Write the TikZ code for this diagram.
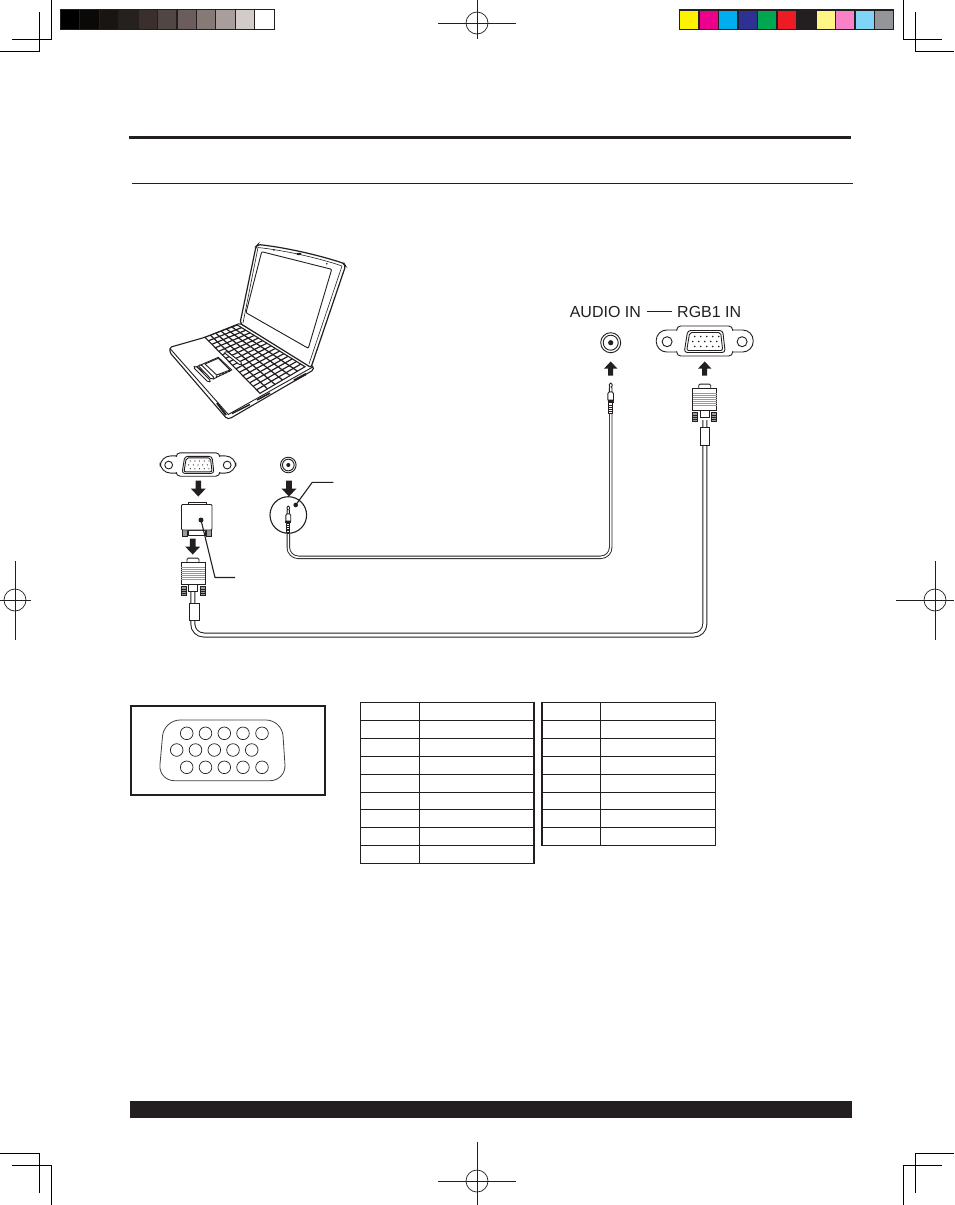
\documentclass[tikz,border=0pt]{standalone}
\usepackage{fontspec}
\setmainfont{Liberation Sans}
\usetikzlibrary{calc}
\definecolor{ink}{HTML}{231F20}
\tikzset{
  ln/.style={draw=ink,line width=0.9pt},
  crop/.style={draw=black,line width=1pt},
  tbl/.style={draw=ink,line width=1pt},
  lbl/.style={font=\fontsize{16}{16}\selectfont,text=ink,inner sep=0pt},
  fatarrow/.pic={\fill[ink] (-2.8,-8)--(2.8,-8)--(2.8,0)--(7.5,0)--(0,8)--(-7.5,0)--(-2.8,0)--cycle;},
  vgaport/.pic={
    \draw[ln,fill=white,rounded corners=10.5pt] (-48.5,-11) rectangle (48.5,11);
    \draw[ln,fill=white,rounded corners=4pt] (-28,-15) rectangle (28,15);
    \fill[white] (-29,-10) rectangle (29,10);
    \draw[ln] (-37.6,0.7) circle[radius=5];
    \draw[ln] (37.4,0.7) circle[radius=5];
    \draw[ln,rounded corners=3pt] (-17,-10.5)--(18,-10.5)--(20.5,11.5)--(-20.5,11.5)--cycle;
    \draw[ln,rounded corners=2pt] (-15,-8.5)--(16,-8.5)--(18,9.5)--(-18,9.5)--cycle;
    \foreach \px in {-10,-4,2,8,14} \fill[ink] (\px,-4.5) circle[radius=.8];
    \foreach \px in {-12,-6,0,6,12} \fill[ink] (\px,0.5) circle[radius=.8];
    \foreach \px in {-10,-4,2,8,14} \fill[ink] (\px,5.5) circle[radius=.8];
  },
  jackport/.pic={
    \draw[ln] (0,0) circle[radius=10];
    \draw[ln] (0,0) circle[radius=7.5];
    \fill[ink] (0,0) circle[radius=2.6];
  },
  jackplug/.pic={
    \draw[ln,fill=white,line join=round] (-1.3,-8)--(-1.3,-12)--(-.7,-13)--(-1.4,-14)--(-1.4,-15.6)--(0,-17)--(1.4,-15.6)--(1.4,-14)--(.7,-13)--(1.3,-12)--(1.3,-8)--cycle;
    \draw[ln,fill=white] (-2.8,0)--(-2.8,-6.5)--(-1.6,-8)--(1.6,-8)--(2.8,-6.5)--(2.8,0)--cycle;
    \fill[ink] (-3.2,0) rectangle (3.2,2.8);
    \draw[ln,fill=white] (-1.8,2.8) rectangle (1.8,13);
    \foreach \ry in {5,7,9,11} \draw[ink,line width=.6pt] (-1.8,\ry)--(1.8,\ry);
  },
  vgaplug/.pic={
    \draw[ln,fill=white] (-6,0)--(-6,-3)--(-4.5,-4.2)--(4.5,-4.2)--(6,-3)--(6,0);
    \draw[ln,fill=ink!45] (-12,24.5) rectangle (-7,33);
    \draw[ln,fill=ink!45] (7,24.5) rectangle (12,33);
    \foreach \ry in {27,29,31} {\draw[ink,line width=.5pt] (-12,\ry)--(-7,\ry); \draw[ink,line width=.5pt] (7,\ry)--(12,\ry);}
    \draw[ln,fill=white] (-4.5,21) rectangle (4.5,29.5);
    \draw[ln,fill=white] (-12,0) rectangle (12,22);
    \foreach \ry in {5,7,9,11,13,15,17} \draw[black!40,line width=.6pt] (-12,\ry)--(12,\ry);
  },
}
\begin{document}
\begin{tikzpicture}[x=1pt,y=-1pt]
\useasboundingbox (0,0) rectangle (954,1205);
\fill[white] (0,0) rectangle (954,1205);
% crop marks
\draw[crop] (51.5,0)--(51.5,39)--(12,39);
\draw[crop] (39.5,12)--(39.5,51.5)--(0,51.5);
\draw[crop] (903.5,0)--(903.5,39)--(942,39);
\draw[crop] (915,12)--(915,51.5)--(954,51.5);
\draw[crop] (0,1153.5)--(39.5,1153.5)--(39.5,1193);
\draw[crop] (12,1165)--(51.5,1165)--(51.5,1205);
\draw[crop] (954,1153.5)--(915,1153.5)--(915,1193);
\draw[crop] (942,1165)--(903.5,1165)--(903.5,1205);
% registration marks
\foreach \cx/\cy in {477/23,477/1181,15/600,935/600}{
  \draw[ink,line width=.7pt] (\cx,\cy) circle[radius=11];
}
\draw[ink,line width=.7pt] (438,23)--(516,23) (477,0)--(477,39);
\draw[ink,line width=.7pt] (438,1181)--(516,1181) (477,1142)--(477,1205);
\draw[ink,line width=.7pt] (0,600)--(31,600) (15,561)--(15,640);
\draw[ink,line width=.7pt] (896,600)--(954,600) (935,561)--(935,640);
% grey bar
\fill[ink] (60,9) rectangle (275,30);
\foreach \i/\c in {0/000000,1/0A0908,2/181513,3/26211D,4/3A2F2D,5/504644,6/6A5D5B,7/857A76,8/A89E9C,9/D3CBC9,10/FFFFFF}{
  \definecolor{tmpc}{HTML}{\c}
  \fill[tmpc] ({60.8+\i*19.45},10.4) rectangle ({60.8+\i*19.45+18.4},28.8);
}
% colour bar
\fill[ink] (679,9) rectangle (894,30);
\foreach \i/\c in {0/FFF200,1/EC008C,2/00AEEF,3/2E3192,4/00A651,5/ED1C24,6/231F20,7/FFF685,8/F782C8,9/80D4F7,10/939598}{
  \definecolor{tmpc}{HTML}{\c}
  \fill[tmpc] ({680+\i*19.5},10.6) rectangle ({680+\i*19.5+18.2},28.8);
}
% rules
\draw[ink,line width=3pt] (129,137)--(851,137);
\draw[ink,line width=.9pt] (132,183.5)--(853,183.5);
\fill[ink] (129.5,1101) rectangle (852,1118);
% laptop
\begin{scope}
 \draw[ln,line width=1.1pt,fill=white,rounded corners=1.5pt] (170,347.3)--(205,337.3)--(240,323.3)--(313.3,366.7)--(313.3,370)--(230,418.5)--(226.7,418.5)--(170,352.7)--cycle;
 \draw[ln] (170,348.5)--(228.3,414.5)--(313.3,366.7);
 \draw[ink,line width=2pt] (217,403)--(226,415);
 \draw[ink,line width=1.4pt] (232,413.5)--(250,404.5);
 \draw[ink,line width=1.6pt] (257,400)--(270,393);
 \draw[ink,line width=2.2pt] (294,380.5)--(306,374);
 \draw[ln,line width=1.2pt,fill=white,rounded corners=2pt] (240,323.3)--(256,246.5)--(258,244.5) .. controls (290,248) and (325,257) .. (344,263.5)--(345.5,266)--(311,367.5)--cycle;
 \draw[ln,line width=.6pt] (243,323) -- (258,247.5) .. controls (290,251) and (325,260) .. (342,266) -- (309,364);
 \draw[ln,rounded corners=1pt] (261.7,251.7)--(331.7,269.3)--(308.3,348.3)--(246,312.7)--cycle;
 \fill[ink] (274,250) circle[radius=.9];
 \fill[ink] (299,254) ellipse[x radius=2.6,y radius=1.1];
 \fill[ink] (326.7,263.7) circle[radius=.9];
 % keyboard
 \coordinate (ka) at (205,337.3);
 \coordinate (kb) at (237.3,325);
 \coordinate (kc) at (305,366.7);
 \coordinate (kd) at (260,393.3);
 \draw[ink,line width=1.1pt,fill=white] (ka)--(kb)--(kc)--(kd)--cycle;
 \foreach \t in {0.167,0.333,0.5,0.667,0.833}
   \draw[ink,line width=1.2pt] ($(ka)!\t!(kb)$)--($(kd)!\t!(kc)$);
 \foreach \t in {0.0625,0.125,0.1875,0.25,0.3125,0.375,0.4375,0.5,0.5625,0.625,0.6875,0.75,0.8125,0.875,0.9375}
   \draw[ink,line width=1.2pt] ($(ka)!\t!(kd)$)--($(kb)!\t!(kc)$);
 \draw[ln,fill=white,rounded corners=1pt] (224,352.5)--(227,351.5)--(242,363)--(240,365)--cycle;
 % touchpad
 \draw[ln,fill=white] (196.7,366.7)--(218.3,357.3)--(231.7,370)--(213.3,379)--cycle;
 \draw[ln,fill=white] (205,364)--(218.3,358.3)--(230,370)--(216.7,375)--cycle;
 \draw[ln,fill=white,rounded corners=1.5pt] (193.3,367.3)--(196,366)--(211,381)--(208.3,382.3)--cycle;
 \draw[ln,fill=white,rounded corners=1.5pt] (198,365.5)--(201,364.5)--(214.5,378)--(211.5,379.5)--cycle;
 \draw[ink,line width=1.4pt,dotted] (216,376.5)--(230,371);
\end{scope}
% cables
\coordinate (ac1) at (610.7,413);
\coordinate (ac2) at (610.7,557.3);
\coordinate (ac3) at (288.3,557.3);
\coordinate (ac4) at (288.3,534);
\draw[ink,line width=3.4pt,rounded corners=10pt] (ac1)--(ac2)--(ac3)--(ac4);
\draw[white,line width=1.6pt,rounded corners=10pt] (ac1)--(ac2)--(ac3)--(ac4);
\coordinate (vc1) at (704.8,420);
\coordinate (vc2) at (704.8,635);
\coordinate (vc3) at (192.8,635);
\coordinate (vc4) at (192.8,590);
\draw[ink,line width=5pt,rounded corners=11pt] (vc1)--(vc2)--(vc3)--(vc4);
\draw[white,line width=3pt,rounded corners=11pt] (vc1)--(vc2)--(vc3)--(vc4);
% top right connectors
\node[lbl,anchor=west] (audiolabel) at (569.6,311.5) {AUDIO IN};
\node[lbl,anchor=west] (rgblabel) at (677,311.5) {RGB1 IN};
\draw[ink,line width=1.1pt] ($(audiolabel.east)+(6,0)$) -- ($(rgblabel.west)+(-5,0)$);
\pic at (610.7,342.7) {jackport};
\pic at (704.7,341) {vgaport};
\pic[yscale=-.88,xscale=.88] at (610.7,368.5) {fatarrow};
\pic[yscale=-.88,xscale=.88] at (704.7,368.5) {fatarrow};
\pic at (610.7,400) {jackplug};
\pic at (704.7,388.3) {vgaplug};
\draw[ln,fill=white] (700.7,427.7) rectangle (709,445.7);
% left connectors
\pic[scale=.78] at (198,464.5) {vgaport};
\pic[scale=.78] at (288.3,465) {jackport};
\pic at (198.3,488.5) {fatarrow};
\pic at (289,488.5) {fatarrow};
\pic at (192.7,546.5) {fatarrow};
% adapter
\draw[ln,fill=white] (188.5,504)--(188.5,502)--(206,502)--(206,504);
\draw[ln,fill=ink!45] (182,528) rectangle (187,536.7);
\draw[ln,fill=ink!45] (206.5,528) rectangle (211.5,536.7);
\draw[ln,fill=white] (188,530) rectangle (205,535);
\draw[ln,fill=white,rounded corners=1pt] (181.5,504.5) rectangle (212,530);
\coordinate (addot) at (201,520);
\coordinate (adelb) at (215,577.5);
\coordinate (adend) at (235,577.5);
\fill[ink] (addot) circle[radius=2.5];
\draw[ink,line width=1.1pt] (addot)--(adelb)--(adend);
% left plug
\pic at (193,562.3) {vgaplug};
\draw[ln,fill=white] (189.3,603.3) rectangle (199,620.7);
% jack magnifier
\coordinate (circ) at (288.3,515);
\draw[ln,line width=1.1pt] (circ) circle[radius=18.3];
\pic[scale=.88] at (288.3,521) {jackplug};
\coordinate (mdot) at (295.7,505);
\coordinate (melb) at (312.3,482.3);
\coordinate (mend) at (333.3,482.3);
\fill[ink] (mdot) circle[radius=2.3];
\draw[ink,line width=1.1pt] (mdot)--(melb)--(mend);
% pin box
\draw[ink,line width=1.8pt] (130.8,705.8) rectangle (325.2,795);
\draw[draw=ink!85,line width=.8pt,rounded corners=16pt] (164,720)--(282,720)--(286,780.7)--(158.5,780.7)--cycle;
\foreach \px in {186.7,205.5,224.3,243,262}{
  \draw[ink,line width=.7pt] (\px,733.3) circle[radius=6.3];
  \draw[ink,line width=.7pt] (\px,767.3) circle[radius=6.3];
}
\foreach \px in {176.7,195.5,214.3,233,251.7}
  \draw[ink,line width=.7pt] (\px,750) circle[radius=6.3];
% tables
\foreach \ty in {702.3,720.3,738.3,756.3,774.3,792.3,809.7,827.7,845.7,863.3}
  \draw[tbl] (360.3,\ty)--(534.5,\ty);
\draw[tbl] (360.3,702.3)--(360.3,863.3) (419.3,702.3)--(419.3,863.3);
\draw[ink,line width=2pt] (534,701.8)--(534,863.8);
\foreach \ty in {702.3,720.3,738.3,756.3,774.3,792.3,809.7,827.7,845.7}
  \draw[tbl] (541.7,\ty)--(715.3,\ty);
\draw[ink,line width=2pt] (542,701.8)--(542,846.2);
\draw[tbl] (600.3,702.3)--(600.3,845.7) (715.3,702.3)--(715.3,845.7);
\end{tikzpicture}
\end{document}
